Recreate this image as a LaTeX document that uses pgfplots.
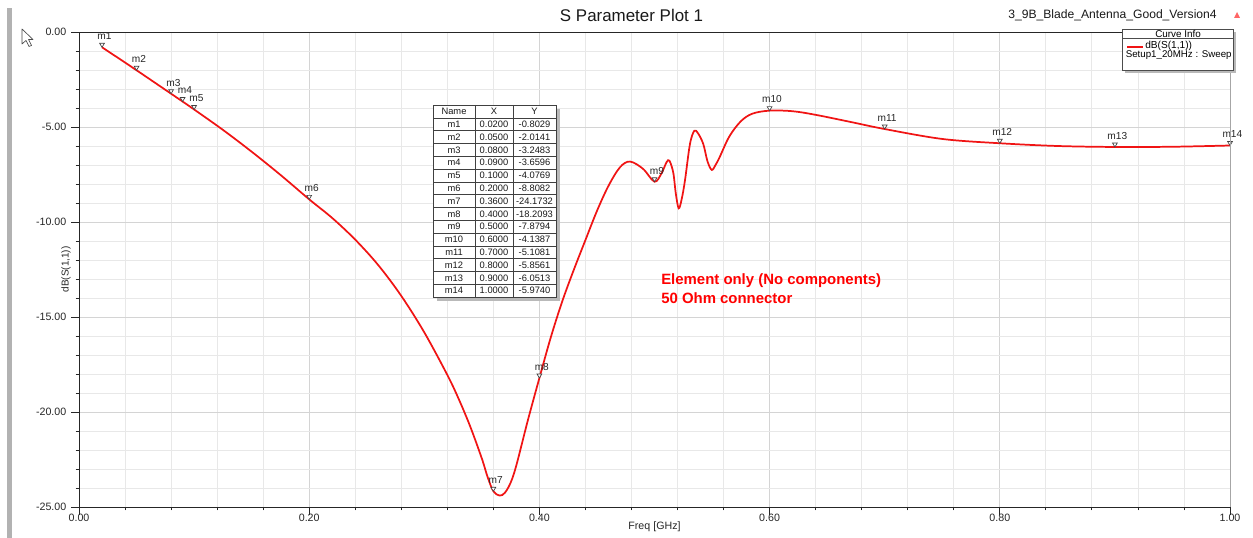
\documentclass[border=0pt]{standalone}
\usepackage{pgfplots}
\usepackage{pgfplotstable}
\pgfplotsset{compat=1.18}
\usepackage{fontspec}
\setmainfont{Liberation Sans}

\definecolor{curvered}{RGB}{240,20,20}
\definecolor{gridminor}{RGB}{232,232,232}
\definecolor{gridmajor}{RGB}{212,212,212}

% downward triangle, tip on the data point
\pgfdeclareplotmark{dtri}{%
  \pgfpathmoveto{\pgfpoint{0pt}{0pt}}%
  \pgfpathlineto{\pgfpoint{-0.6\pgfplotmarksize}{\pgfplotmarksize}}%
  \pgfpathlineto{\pgfpoint{0.6\pgfplotmarksize}{\pgfplotmarksize}}%
  \pgfpathclose
  \pgfusepathqfillstroke}

\pgfplotstableread{
f db
0.02 -0.803
0.05 -2.014
0.08 -3.248
0.09 -3.660
0.10 -4.077
0.125 -5.15
0.15 -6.30
0.175 -7.52
0.20 -8.808
0.22 -9.79
0.24 -10.93
0.26 -12.27
0.28 -13.89
0.30 -15.81
0.32 -18.05
0.33 -19.33
0.34 -20.78
0.35 -22.45
0.355 -23.42
0.36 -24.17
0.3655 -24.40
0.37 -24.25
0.375 -23.72
0.38 -22.8
0.39 -20.43
0.40 -18.21
0.41 -16.05
0.42 -14.15
0.43 -12.5
0.44 -10.95
0.45 -9.42
0.46 -8.1
0.47 -7.12
0.4787 -6.82
0.49 -7.2
0.50 -7.879
0.506 -7.45
0.5105 -6.85
0.513 -6.78
0.5163 -7.4
0.5185 -8.5
0.521 -9.28
0.5236 -8.8
0.5265 -7.8
0.5308 -5.9
0.5346 -5.2
0.538 -5.35
0.5424 -5.9
0.546 -6.8
0.5497 -7.26
0.553 -7.0
0.5565 -6.6
0.565 -5.5
0.575 -4.7
0.585 -4.3
0.60 -4.139
0.62 -4.17
0.64 -4.36
0.67 -4.73
0.70 -5.108
0.75 -5.63
0.80 -5.856
0.85 -6.0
0.90 -6.051
0.95 -6.04
1.00 -5.974
}\sparam

\pgfplotstableread{
f db name
0.02 -0.8029 m1
0.05 -2.0141 m2
0.08 -3.2483 m3
0.09 -3.6596 m4
0.10 -4.0769 m5
0.20 -8.8082 m6
0.36 -24.1732 m7
0.40 -18.2093 m8
0.50 -7.8794 m9
0.60 -4.1387 m10
0.70 -5.1081 m11
0.80 -5.8561 m12
0.90 -6.0513 m13
1.00 -5.9740 m14
}\markers

\tikzset{px/.style={x=0.75pt,y=-0.75pt,shift={(-59.25pt,380.25pt)}}}

\begin{document}
\begin{tikzpicture}
\path[use as bounding box] (-59.25pt,-23.25pt) rectangle (880.5pt,380.25pt);

\begin{axis}[
  at={(0,0)}, anchor=south west,
  scale only axis, width=863.25pt, height=356.25pt,
  xmin=0, xmax=1, ymin=-25, ymax=0,
  axis lines=left, axis line style={-, black!85, line width=0.6pt},
  xtick={0,0.2,0.4,0.6,0.8,1}, minor x tick num=4,
  ytick={-25,-20,-15,-10,-5,0}, minor y tick num=4,
  grid=both,
  major grid style={gridmajor, line width=0.6pt},
  minor grid style={gridminor, line width=0.6pt},
  tick align=outside, major tick length=6pt, minor tick length=2.5pt,
  tick style={black!85, line width=0.6pt},
  /pgf/number format/assume math mode=true,
  /pgf/number format/fixed, /pgf/number format/fixed zerofill,
  /pgf/number format/precision=2,
  tick label style={font=\fontsize{8}{9}\selectfont, text=black!85},
  xticklabel style={yshift=4pt},
  xlabel={Freq [GHz]},
  xlabel style={at={(axis description cs:0.5,-0.042)}, anchor=center,
    font=\fontsize{8}{9}\selectfont, text=black!85},
  ylabel={dB(S(1,1))},
  ylabel style={at={(axis description cs:-0.0113,0.5)}, anchor=center,
    font=\fontsize{7.5}{9}\selectfont, text=black!85},
  clip mode=individual,
]
\addplot[curvered, line width=1.3pt, smooth, tension=0.55] table[x=f, y=db] {\sparam};
\addplot[only marks, mark=dtri, mark size=3pt,
  mark options={draw=black!75, fill=white, line width=0.5pt},
  nodes near coords, point meta=explicit symbolic,
  every node near coord/.append style={font=\fontsize{7.6}{8}\selectfont,
    text=black!85, anchor=south, inner sep=0pt, yshift=5.4pt, xshift=1.8pt}]
  table[x=f, y=db, meta=name] {\markers};
\draw[black!85, line width=0.6pt] (rel axis cs:0,1) -- (rel axis cs:1,1);
\draw[gray!70, line width=0.6pt] (rel axis cs:1,0) -- (rel axis cs:1,1);
\end{axis}

\begin{scope}[px]
  % window border and cursor
  \fill[gray!60] (7,8) rectangle (12,538);
  \draw[black!70, fill=white, line width=0.5pt, line join=round]
    (22,29) -- (22,44) -- (26,40.5) -- (29,46.5) -- (31.5,45.5) -- (28.5,39.5) -- (33,39.5) -- cycle;
  % titles
  \node[font=\fontsize{12.7}{14}\selectfont, text=black!90] at (631.5,15) {S Parameter Plot 1};
  \node[font=\fontsize{9.1}{11}\selectfont, text=black!90, anchor=west, inner sep=0pt]
    at (1008,15) {3\_9B\_Blade\_Antenna\_Good\_Version4};
  \fill[red!60] (1234,18) -- (1240,18) -- (1237,12) -- cycle;
  % curve info box
  \fill[gray!55] (1125,32) rectangle (1236,73);
  \draw[black!70, fill=white, line width=0.5pt] (1122,29) rectangle (1233,70);
  \draw[black!70, line width=0.5pt] (1122,38.5) -- (1233,38.5);
  \node[font=\fontsize{7.4}{8}\selectfont, inner sep=0pt] at (1178,33.5) {Curve Info};
  \draw[curvered, line width=1pt] (1127,47) -- (1143,47);
  \node[font=\fontsize{7.6}{8}\selectfont, inner sep=0pt, anchor=west] at (1145,45.5) {dB(S(1,1))};
  \node[font=\fontsize{7.3}{8}\selectfont, inner sep=0pt, anchor=west] at (1125.5,55) {Setup1\_20MHz : Sweep};
  % marker table
  \fill[gray!55] (437,109) rectangle (560,301);
  \draw[black!75, fill=white, line width=0.5pt] (433,105) rectangle (556,297.2);
  \draw[black!75, line width=0.5pt] (475,105) -- (475,297.2) (513,105) -- (513,297.2);
  \foreach \i in {1,...,14} {\draw[black!75, line width=0.4pt] (433,105+12.8*\i) -- (556,105+12.8*\i);}
  \begin{scope}[font=\fontsize{7}{8}\selectfont, text=black!90]
    \node at (454,111.4) {Name};
    \node at (494,111.4) {X};
    \node at (534.5,111.4) {Y};
    \foreach \n/\xv/\yv [count=\i] in {m1/0.0200/-0.8029, m2/0.0500/-2.0141,
      m3/0.0800/-3.2483, m4/0.0900/-3.6596, m5/0.1000/-4.0769, m6/0.2000/-8.8082,
      m7/0.3600/-24.1732, m8/0.4000/-18.2093, m9/0.5000/-7.8794, m10/0.6000/-4.1387,
      m11/0.7000/-5.1081, m12/0.8000/-5.8561, m13/0.9000/-6.0513, m14/1.0000/-5.9740} {
      \node at (454,111.4+12.8*\i) {\n};
      \node at (494,111.4+12.8*\i) {\xv};
      \node at (534.5,111.4+12.8*\i) {\yv};
    }
  \end{scope}
  % annotation
  \node[font=\bfseries\fontsize{11.2}{13}\selectfont, text=red, anchor=base west, inner sep=0pt]
    at (661,285) {Element only (No components)};
  \node[font=\bfseries\fontsize{11.2}{13}\selectfont, text=red, anchor=base west, inner sep=0pt]
    at (661,303.3) {50 Ohm connector};
\end{scope}
\end{tikzpicture}
\end{document}
